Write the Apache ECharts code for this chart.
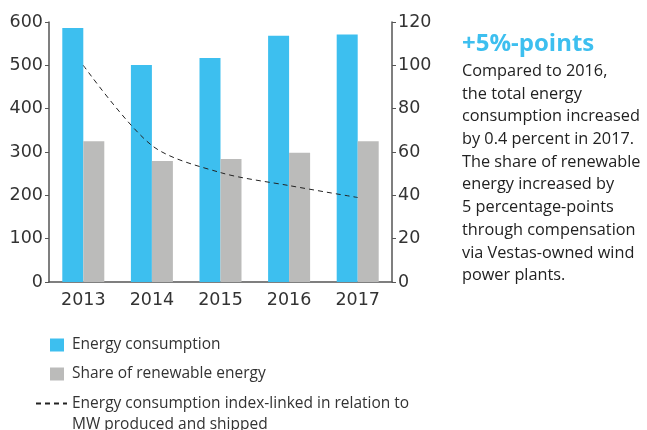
<!DOCTYPE html>
<html>
<head>
<meta charset="utf-8">
<script src="https://cdn.jsdelivr.net/npm/echarts@6/dist/echarts.min.js"></script>
<style>
  html, body { margin: 0; padding: 0; background: #fff; }
  #main { width: 647px; height: 430px; }
</style>
</head>
<body>
<div id="main"></div>
<script>
var years = ['2013', '2014', '2015', '2016', '2017'];
var energyConsumption = [586, 501, 517, 568, 571];
var renewableShare = [325, 279, 284, 298, 325];
var indexLinked = [100, 63, 50.5, 44.5, 39];

var sideTitle = '+5%-points';
var sideLines = [
	'Compared to 2016,',
	'the total energy',
	'consumption increased',
	'by 0.4 percent in 2017.',
	'The share of renewable',
	'energy increased by',
	'5 percentage-points',
	'through compensation',
	'via Vestas-owned wind',
	'power plants.'
];
var lineName = 'Energy consumption index-linked in relation to\nMW produced and shipped';

var blue = '#3dbfef';
var grey = '#bbbbba';
var axisCol = '#555';
var textCol = '#333';
var font = 'DejaVu Sans';
var bodyFont = 'Open Sans';

var myChart = echarts.init(document.getElementById('main'));
var option = {
	animation: false,
	grid: {
		left: 49,
		right: 255,
		top: 22,
		bottom: 148
	},
	legend: [{
		data: ['Energy consumption', 'Share of renewable energy'],
		orient: 'vertical',
		left: 45,
		top: 332,
		itemWidth: 14,
		itemHeight: 13,
		itemGap: 13,
		icon: 'rect',
		textStyle: { fontFamily: bodyFont, fontSize: 15.5, color: textCol, padding: [0, 0, 0, 3] }
	}, {
		data: [lineName],
		orient: 'vertical',
		left: 30,
		top: 367,
		itemWidth: 31,
		itemHeight: 13,
		itemStyle: { opacity: 0 },
		// blank first line keeps the dashed icon level with the first text line
		formatter: function(name) { return '\n' + name; },
		textStyle: { fontFamily: bodyFont, fontSize: 15.5, color: textCol, lineHeight: 21 }
	}],
	xAxis: {
		type: 'category',
		data: years,
		axisLine: { lineStyle: { color: axisCol, width: 1.5 } },
		axisTick: { show: false },
		axisLabel: { color: textCol, fontFamily: font, fontSize: 17.5, margin: 9 }
	},
	yAxis: [{
		type: 'value',
		min: 0,
		max: 600,
		interval: 100,
		axisLine: { show: true, lineStyle: { color: axisCol, width: 1.5 } },
		axisTick: { show: true, length: 4, lineStyle: { color: axisCol } },
		axisLabel: { color: textCol, fontFamily: font, fontSize: 17.5, margin: 6 },
		splitLine: { show: false }
	}, {
		type: 'value',
		min: 0,
		max: 120,
		interval: 20,
		position: 'right',
		axisLine: { show: true, lineStyle: { color: axisCol, width: 1.5 } },
		axisTick: { show: true, length: 4, lineStyle: { color: axisCol } },
		axisLabel: { color: textCol, fontFamily: font, fontSize: 17.5, margin: 6 },
		splitLine: { show: false }
	}],
	series: [{
		name: 'Energy consumption',
		type: 'bar',
		data: energyConsumption,
		barWidth: 21,
		barGap: '0%',
		itemStyle: { color: blue }
	}, {
		name: 'Share of renewable energy',
		type: 'bar',
		data: renewableShare,
		barWidth: 21,
		itemStyle: { color: grey }
	}, {
		name: lineName,
		type: 'line',
		yAxisIndex: 1,
		data: indexLinked,
		smooth: 0.3,
		symbol: 'none',
		lineStyle: { color: '#222', width: 1, type: [5, 4] },
		itemStyle: { color: '#222' }
	}],
	graphic: [{
		type: 'text',
		left: 462,
		top: 32,
		style: {
			text: sideTitle,
			fill: blue,
			font: 'bold 24px "' + bodyFont + '"'
		}
	}, {
		type: 'text',
		left: 462,
		top: 60,
		style: {
			text: sideLines.join('\n'),
			fill: '#222',
			font: '16.3px "' + bodyFont + '"',
			lineHeight: 22.7
		}
	}]
};
myChart.setOption(option);
</script>
</body>
</html>
